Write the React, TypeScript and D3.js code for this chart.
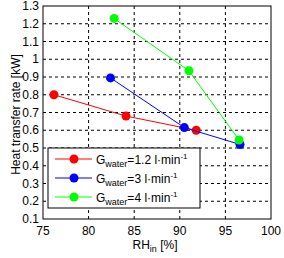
import * as d3 from 'd3';
import React from 'react';

// humidity at inlet [%] vs heat transfer rate [kW], one list per water flow
const redRH = [76.2, 84.1, 91.8];
const redQ = [0.80, 0.68, 0.60];
const blueRH = [82.4, 90.5, 96.6];
const blueQ = [0.895, 0.615, 0.52];
const greenRH = [82.8, 91.0, 96.5];
const greenQ = [1.23, 0.935, 0.545];
const flowLabels = ['1.2', '3', '4'];
const xTicks = [75, 80, 85, 90, 95, 100];
const yTicks = [0.1, 0.2, 0.3, 0.4, 0.5, 0.6, 0.7, 0.8, 0.9, 1, 1.1, 1.2, 1.3];

const params = {
  left: 43,
  right: 271,
  top: 6,
  bottom: 219,
  font: 'Liberation Sans, Arial, sans-serif',
};

const series = [
  { rh: redRH, q: redQ, color: '#ff0000', label: flowLabels[0] },
  { rh: blueRH, q: blueQ, color: '#0000ff', label: flowLabels[1] },
  { rh: greenRH, q: greenQ, color: '#00ff00', label: flowLabels[2] },
];

export default function App() {
  const x = d3.scaleLinear().domain([75, 100]).range([params.left, params.right]);
  const y = d3.scaleLinear().domain([0.1, 1.3]).range([params.bottom, params.top]);
  const line = d3.line<[number, number]>().x(d => x(d[0])).y(d => y(d[1]));

  const legend = { x: 48, y: 148, w: 152, h: 60 };

  return (
    <svg width={284} height={258} style={{ position: 'absolute', left: 0, top: 0, background: '#fff' }}
      fontFamily={params.font}>
      <rect x={0} y={0} width={284} height={258} fill="#fff" />
      {/* grid */}
      {xTicks.slice(1, -1).map(t => (
        <line key={'gx' + t} x1={x(t)} x2={x(t)} y1={params.top} y2={params.bottom}
          stroke="#000" strokeWidth={1} strokeDasharray="3,3" />
      ))}
      {yTicks.slice(1, -1).map(t => (
        <line key={'gy' + t} x1={params.left} x2={params.right} y1={y(t)} y2={y(t)}
          stroke="#000" strokeWidth={1} strokeDasharray="3,3" />
      ))}
      <rect x={params.left} y={params.top} width={params.right - params.left} height={params.bottom - params.top}
        fill="none" stroke="#000" strokeWidth={1} />
      {/* tick labels */}
      {xTicks.map(t => (
        <text key={'tx' + t} x={x(t)} y={params.bottom + 16} textAnchor="middle" fontSize={12}>{t}</text>
      ))}
      {yTicks.map(t => (
        <text key={'ty' + t} x={params.left - 4} y={y(t) + 4} textAnchor="end" fontSize={12}>{t}</text>
      ))}
      <text x={155} y={249} textAnchor="middle" fontSize={12}>
        RH<tspan fontSize={9} dy={3}>in</tspan><tspan dy={-3}> [%]</tspan>
      </text>
      <text transform={`translate(20,${(params.top + params.bottom) / 2 + 2}) rotate(-90)`} textAnchor="middle" fontSize={12}>
        Heat transfer rate [kW]
      </text>
      {/* data */}
      {series.map((s, i) => {
        const pts = s.rh.map((r, j) => [r, s.q[j]] as [number, number]);
        return (
          <g key={'s' + i}>
            <path d={line(pts) || ''} fill="none" stroke={s.color} strokeWidth={1} />
            {pts.map((p, j) => (
              <circle key={j} cx={x(p[0])} cy={y(p[1])} r={4.5} fill={s.color} />
            ))}
          </g>
        );
      })}
      {/* legend */}
      <rect x={legend.x} y={legend.y} width={legend.w} height={legend.h} fill="#fff" stroke="#000" strokeWidth={1} />
      {series.map((s, i) => {
        const cy = 159 + i * 19;
        return (
          <g key={'l' + i}>
            <line x1={55} x2={92} y1={cy} y2={cy} stroke={s.color} strokeWidth={1} />
            <circle cx={74} cy={cy} r={4.5} fill={s.color} />
            <text x={96} y={cy + 5} fontSize={12}>
              G<tspan fontSize={9} dy={3}>water</tspan><tspan dy={-3}>={s.label} l·min</tspan>
              <tspan fontSize={8} dy={-5}>-1</tspan>
            </text>
          </g>
        );
      })}
    </svg>
  );
}
